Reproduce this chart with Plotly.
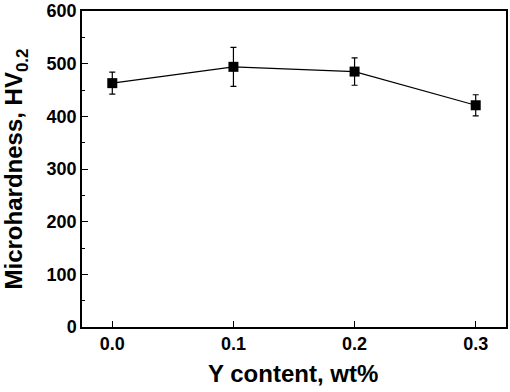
import plotly.graph_objects as go

y_content = [0.0, 0.1, 0.2, 0.3]
microhardness = [463, 494, 485, 421]
error = [21, 37, 26, 20]
x_ticks = [0.0, 0.1, 0.2, 0.3]
x_ticklabels = ["0.0", "0.1", "0.2", "0.3"]
y_ticks = [0, 100, 200, 300, 400, 500, 600]

fig = go.Figure()
fig.add_trace(go.Scatter(
    x=y_content, y=microhardness, mode="lines+markers",
    line=dict(color="black", width=1.2),
    marker=dict(symbol="square", size=10, color="black"),
    error_y=dict(type="data", array=error, visible=True, color="black", thickness=1.2, width=3),
    showlegend=False,
))

font_family = "Liberation Sans, Arial, sans-serif"
fig.update_layout(
    width=510, height=392,
    margin=dict(l=82, r=4, t=11, b=65),
    paper_bgcolor="white", plot_bgcolor="white",
    font=dict(family=font_family, color="black"),
)
fig.update_xaxes(
    range=[-0.025, 0.325], tickvals=x_ticks, ticktext=["<b>%s</b>" % t for t in x_ticklabels],
    ticks="inside", ticklen=6, tickwidth=1, tickcolor="black",
    showline=True, linecolor="black", linewidth=1.5, mirror=True,
    showgrid=False, zeroline=False, automargin=False,
    tickfont=dict(size=18, family=font_family),
)
fig.update_yaxes(
    range=[0, 600], tickvals=y_ticks,
    ticktext=["<b>%d</b>" % v for v in y_ticks],
    ticks="inside", ticklen=6, tickwidth=1, tickcolor="black",
    minor=dict(ticks="inside", ticklen=3, dtick=50, tickcolor="black", showgrid=False),
    showline=True, linecolor="black", linewidth=1.5, mirror=True,
    showgrid=False, zeroline=False, automargin=False,
    tickfont=dict(size=18, family=font_family),
)
fig.add_annotation(
    text="<b>Y content, wt%</b>", xref="paper", yref="paper", x=0.4988, y=-0.1487,
    xanchor="center", yanchor="middle", showarrow=False,
    font=dict(size=24, family=font_family, color="black"),
)
fig.add_annotation(
    text="<b>Microhardness, HV<sub>0.2</sub></b>", xref="paper", yref="paper", x=-0.1557, y=0.5016,
    xanchor="center", yanchor="middle", showarrow=False, textangle=-90,
    font=dict(size=24, family=font_family, color="black"),
)
fig.write_html(
    "out.html",
    config={"displayModeBar": False},
    post_script="document.body.style.margin='0';document.body.style.overflow='hidden';",
)
